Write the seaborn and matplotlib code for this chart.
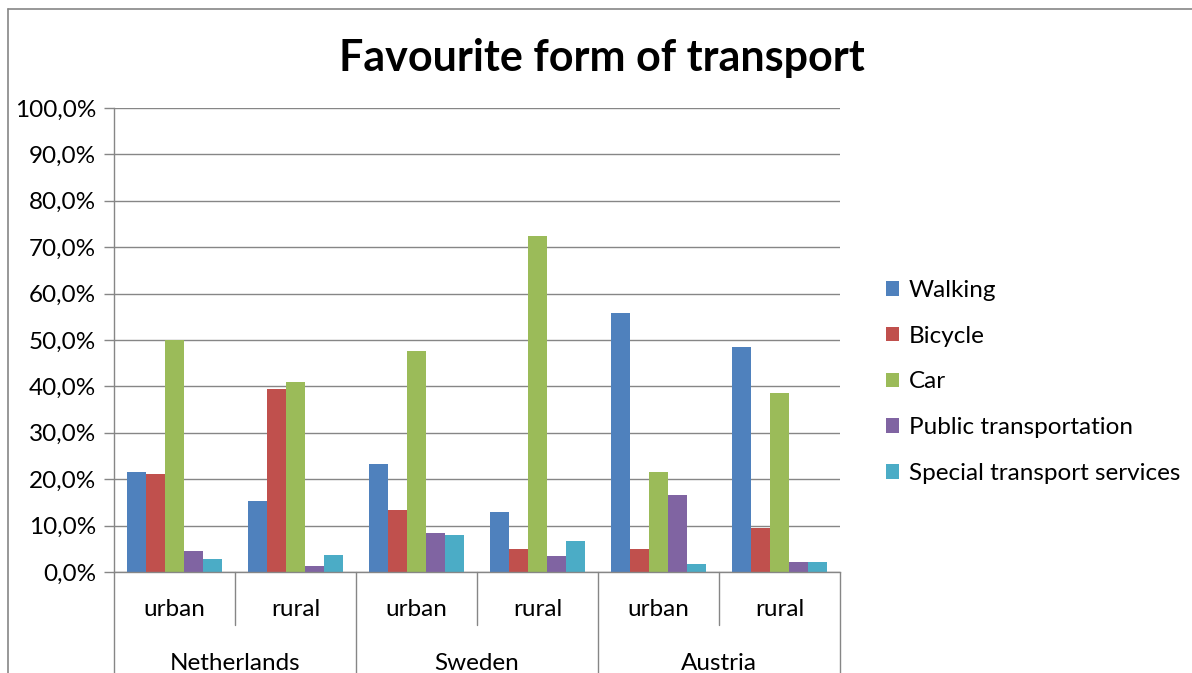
import matplotlib
matplotlib.use("Agg")
import matplotlib.pyplot as plt
import matplotlib.transforms as mtransforms
from matplotlib.lines import Line2D
from matplotlib.ticker import FuncFormatter, MultipleLocator
import seaborn as sns
import pandas as pd

# ---------------- data ----------------
countries = ["Netherlands", "Sweden", "Austria"]
areas = ["urban", "rural"]
modes = ["Walking", "Bicycle", "Car", "Public transportation", "Special transport services"]
walking = [21.5, 15.3, 23.2, 12.9, 55.8, 48.5]
bicycle = [21.1, 39.4, 13.3, 4.9, 4.9, 9.4]
car = [50.1, 40.9, 47.6, 72.4, 21.5, 38.6]
public = [4.5, 1.2, 8.3, 3.4, 16.5, 2.1]
special = [2.9, 3.6, 7.9, 6.6, 1.7, 2.1]
colors = ["#4F81BD", "#C0504D", "#9BBB59", "#8064A2", "#4BACC6"]
title = "Favourite form of transport"

groups = [f"{c} {a}" for c in countries for a in areas]
series = [walking, bicycle, car, public, special]
rows = []
for m, vals in zip(modes, series):
    for g, v in zip(groups, vals):
        rows.append({"group": g, "mode": m, "value": v})
df = pd.DataFrame(rows)

# ---------------- style ----------------
sns.set_theme(style="white")
plt.rcParams["font.family"] = ["Lato", "DejaVu Sans"]
plt.rcParams["text.color"] = "black"
grey = "#868686"
fs = 17.5

fig = plt.figure(figsize=(11.92, 6.73), dpi=100)
W, H = 1192, 673
ax = fig.add_axes([114 / W, (H - 572) / H, 726 / W, 464 / H])

sns.barplot(data=df, x="group", y="value", hue="mode", order=groups,
            hue_order=modes, palette=colors, saturation=1, width=0.785,
            linewidth=0, edgecolor="none", ax=ax, legend=True)

ax.set_xlim(-0.5, len(groups) - 0.5)
ax.set_ylim(0, 100)
ax.yaxis.set_major_locator(MultipleLocator(10))
ax.yaxis.set_major_formatter(FuncFormatter(lambda v, p: f"{v:.1f}%".replace(".", ",")))
ax.grid(axis="y", color=grey, lw=1)
ax.set_axisbelow(True)
ax.set_xlabel("")
ax.set_ylabel("")
for s in ["top", "right"]:
    ax.spines[s].set_visible(False)
for s in ["left", "bottom"]:
    ax.spines[s].set_color(grey)
    ax.spines[s].set_linewidth(1)
ax.tick_params(axis="y", direction="out", length=7, width=1, color=grey,
               labelsize=fs, pad=6, left=True, labelcolor="black")
ax.set_xticks([])

# category separators and two-tier labels
trans = mtransforms.blended_transform_factory(ax.transData, ax.transAxes)
y_short = (572 - 625) / 464
y_long = (572 - 680) / 464
for i in range(len(groups) + 1):
    x = i - 0.5
    yb = y_long if i % 2 == 0 else y_short
    ax.add_line(Line2D([x, x], [0, yb], transform=trans, color=grey, lw=1, clip_on=False))
for i, g in enumerate(groups):
    ax.text(i, (572 - 610) / 464, areas[i % 2], transform=trans, ha="center",
            va="center", fontsize=fs, color="black", clip_on=False)
for j, c in enumerate(countries):
    ax.text(2 * j + 0.5, (572 - 663) / 464, c, transform=trans, ha="center",
            va="center", fontsize=fs, color="black", clip_on=False)

# legend
sns.move_legend(ax, "center left", bbox_to_anchor=(886 / W, (H - 382) / H),
                bbox_transform=fig.transFigure, frameon=False, title=None,
                fontsize=fs, handlelength=0.55, handleheight=0.55,
                handletextpad=0.4, labelspacing=1.02, borderpad=0, borderaxespad=0)
for t in ax.get_legend().get_texts():
    t.set_color("black")

# title
fig.text(602 / W, (H - 58) / H, title, ha="center", va="center",
         fontsize=31, fontweight="bold", color="black")

# outer chart frame (partially visible)
fig.add_artist(Line2D([8 / W, 8 / W], [0, (H - 9) / H], transform=fig.transFigure, color=grey, lw=1.2))
fig.add_artist(Line2D([8 / W, 1], [(H - 9) / H, (H - 9) / H], transform=fig.transFigure, color=grey, lw=1.2))

fig.savefig("out.png", dpi=100)
